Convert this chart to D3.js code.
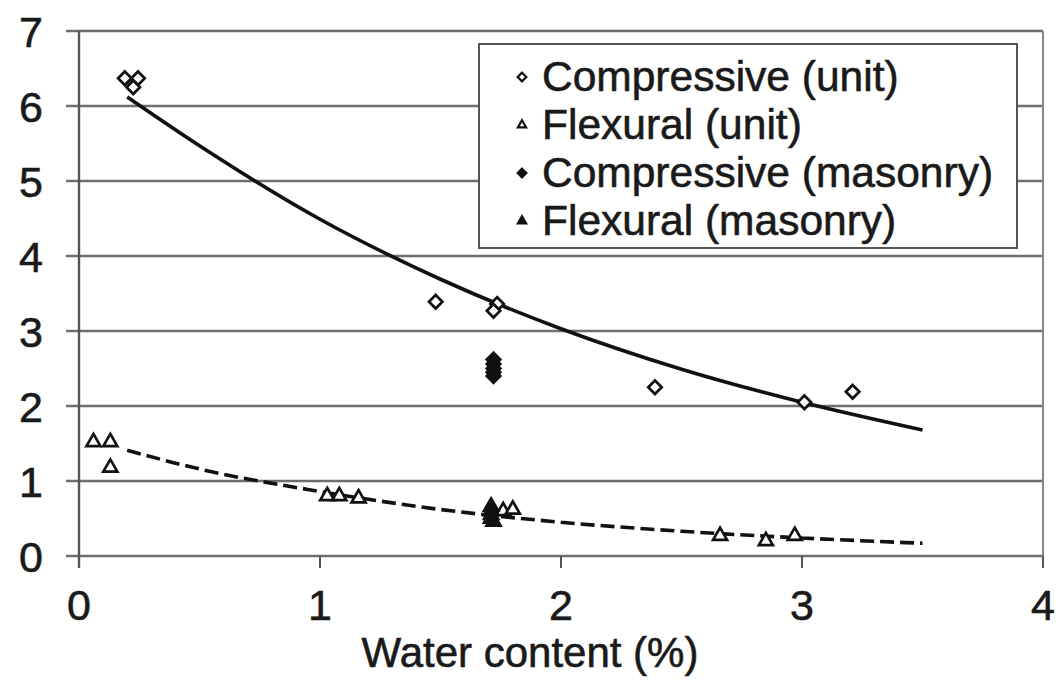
<!DOCTYPE html>
<html><head><meta charset="utf-8">
<script src="https://cdn.jsdelivr.net/npm/d3@7"></script>
<style>
html,body{margin:0;padding:0;background:#fff;}
svg{display:block;font-family:"Liberation Sans",Arial,sans-serif;}
text{fill:#1a1a1a;stroke:#1a1a1a;stroke-width:0.6px;}
</style></head>
<body>
<svg id="chart" width="1056" height="680"></svg>
<script>
// ---- data ----
const xTicks = [0, 1, 2, 3, 4];
const yTicks = [0, 1, 2, 3, 4, 5, 6, 7];
const xTitle = "Water content (%)";
const legendLabels = ["Compressive (unit)", "Flexural (unit)", "Compressive (masonry)", "Flexural (masonry)"];

const compUnitX = [0.19, 0.245, 0.225, 1.48, 1.735, 1.72, 2.39, 3.01, 3.21];
const compUnitY = [6.37, 6.37, 6.25, 3.39, 3.36, 3.27, 2.25, 2.05, 2.19];

const flexUnitX = [0.06, 0.13, 0.13, 1.03, 1.08, 1.16, 1.76, 1.8, 2.66, 2.85, 2.97];
const flexUnitY = [1.52, 1.52, 1.18, 0.80, 0.80, 0.77, 0.60, 0.62, 0.27, 0.20, 0.27];

const compMasX = [1.72, 1.72, 1.72, 1.72, 1.72];
const compMasY = [2.62, 2.56, 2.50, 2.45, 2.40];

const flexMasX = [1.71, 1.71, 1.71, 1.71, 1.72];
const flexMasY = [0.66, 0.60, 0.55, 0.50, 0.46];

// trend lines
const compTrendX = [0.2, 0.5, 1.0, 1.5, 2.0, 2.5, 3.0, 3.5];
const compTrendY = [6.12, 5.47, 4.49, 3.69, 3.03, 2.49, 2.05, 1.68];
const flexTrendX = [0.2, 0.5, 1.0, 1.5, 2.0, 2.5, 3.0, 3.5];
const flexTrendY = [1.41, 1.16, 0.86, 0.62, 0.45, 0.33, 0.24, 0.17];

// ---- drawing ----
const svg = d3.select("#chart");
const L = 79, R = 1043, T = 31, B = 556;
const x = d3.scaleLinear().domain([0, 4]).range([L, R]);
const y = d3.scaleLinear().domain([0, 7]).range([B, T]);
const grid = "#6e6e6e";

// gridlines
svg.append("g").selectAll("line").data(yTicks).join("line")
  .attr("x1", L - 13).attr("x2", R)
  .attr("y1", d => y(d)).attr("y2", d => y(d))
  .attr("stroke", grid).attr("stroke-width", 2.4);
// left axis
svg.append("line").attr("x1", L).attr("x2", L).attr("y1", T).attr("y2", B + 12)
  .attr("stroke", "#555").attr("stroke-width", 2.4);
// right border
svg.append("line").attr("x1", R).attr("x2", R).attr("y1", T).attr("y2", B)
  .attr("stroke", "#888").attr("stroke-width", 2);
// x ticks
svg.append("g").selectAll("line").data(xTicks).join("line")
  .attr("x1", d => x(d)).attr("x2", d => x(d)).attr("y1", B).attr("y2", B + 12)
  .attr("stroke", "#555").attr("stroke-width", 2);

// tick labels
svg.append("g").selectAll("text").data(yTicks).join("text")
  .attr("x", 43).attr("y", d => y(d) + 15.5)
  .attr("text-anchor", "end").attr("font-size", 43)
  .text(d => d);
svg.append("g").selectAll("text").data(xTicks).join("text")
  .attr("x", d => x(d)).attr("y", 620)
  .attr("text-anchor", "middle").attr("font-size", 43)
  .text(d => d);
svg.append("text").attr("x", 530).attr("y", 667).attr("text-anchor", "middle")
  .attr("font-size", 42).text(xTitle);

// trend lines
const line = d3.line().x(d => x(d[0])).y(d => y(d[1])).curve(d3.curveMonotoneX);
svg.append("path").attr("d", line(d3.zip(compTrendX, compTrendY)))
  .attr("fill", "none").attr("stroke", "#111").attr("stroke-width", 3.6);
svg.append("path").attr("d", line(d3.zip(flexTrendX, flexTrendY)))
  .attr("fill", "none").attr("stroke", "#111").attr("stroke-width", 3.6)
  .attr("stroke-dasharray", "14,6");

// markers
const diamond = d3.symbol().type(d3.symbolDiamond2).size(115);
const tri = d3.symbol().type(d3.symbolTriangle2).size(140);
function pts(xs, ys, sym, fill) {
  svg.append("g").selectAll("path").data(d3.zip(xs, ys)).join("path")
    .attr("d", sym)
    .attr("transform", d => `translate(${x(d[0])},${y(d[1])})`)
    .attr("fill", fill).attr("stroke", "#111").attr("stroke-width", 2.7);
}
pts(compUnitX, compUnitY, diamond, "#fff");
pts(flexUnitX, flexUnitY, tri, "#fff");
pts(compMasX, compMasY, diamond, "#111");
pts(flexMasX, flexMasY, tri, "#111");

// legend
const lg = svg.append("g");
lg.append("rect").attr("x", 479).attr("y", 44).attr("width", 538).attr("height", 204)
  .attr("fill", "#fff").attr("stroke", "#555").attr("stroke-width", 2);
const legSyms = [
  {t: d3.symbolDiamond2, fill: "#fff"},
  {t: d3.symbolTriangle2, fill: "#fff"},
  {t: d3.symbolDiamond2, fill: "#111"},
  {t: d3.symbolTriangle2, fill: "#111"}
];
legendLabels.forEach((lab, i) => {
  const by = 91 + i * 48;
  lg.append("path").attr("d", d3.symbol().type(legSyms[i].t).size(48)())
    .attr("transform", `translate(522,${by - 14})`)
    .attr("fill", legSyms[i].fill).attr("stroke", "#111").attr("stroke-width", 2.2);
  lg.append("text").attr("x", 542).attr("y", by).attr("font-size", 42.5).text(lab);
});
</script>
</body></html>
